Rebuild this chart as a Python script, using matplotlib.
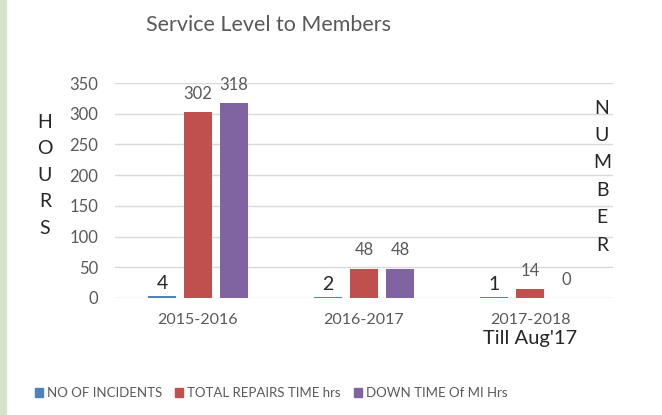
import matplotlib
matplotlib.use("Agg")
import matplotlib.pyplot as plt
import matplotlib.patches as mpatches
import numpy as np

categories = ["2015-2016", "2016-2017", "2017-2018"]
category_note = "Till Aug'17"
incidents = [4, 2, 1]
repairs = [302, 48, 14]
downtime = [318, 48, 0]
series_names = ["NO OF INCIDENTS", "TOTAL REPAIRS TIME hrs", "DOWN TIME Of MI Hrs"]
yticks = [0, 50, 100, 150, 200, 250, 300, 350]

plt.rcParams['font.family'] = ['Lato', 'DejaVu Sans']
GREY = "#595959"
colors = ["#4F81BD", "#C0504D", "#8064A2"]

W, H = 662, 415
fig = plt.figure(figsize=(W / 100, H / 100), dpi=100)
fig.patch.set_facecolor("white")
# green strip on the left
fig.patches.append(mpatches.Rectangle((0, 0), 6 / W, 1, transform=fig.transFigure,
                                      color="#d7e3cd", zorder=0))

ax = fig.add_axes([115 / W, 1 - 298 / H, (613 - 115) / W, (298 - 83) / H])
x = np.arange(len(categories))
bw = 0.169
off = 0.217

b1 = ax.bar(x - off, incidents, bw, color=colors[0], zorder=3)
b2 = ax.bar(x, repairs, bw, color=colors[1], zorder=3)
b3 = ax.bar(x + off, downtime, bw, color=colors[2], zorder=3)

for rect, v in zip(b1, incidents):
    ax.annotate(str(v), (rect.get_x() + rect.get_width() / 2, v), xytext=(0, 9),
                textcoords="offset points", ha="center", va="center",
                fontsize=14, color="#262626")
for bars, vals in ((b2, repairs), (b3, downtime)):
    for rect, v in zip(bars, vals):
        ax.annotate(str(v), (rect.get_x() + rect.get_width() / 2, v), xytext=(0, 13),
                    textcoords="offset points", ha="center", va="center",
                    fontsize=12, color=GREY)

ax.set_xlim(-0.5, len(categories) - 0.5)
ax.set_ylim(0, 350)
ax.set_yticks(yticks)
ax.yaxis.grid(True, color="#d9d9d9", linewidth=1, zorder=0)
ax.set_axisbelow(True)
for s in ax.spines.values():
    s.set_visible(False)
ax.tick_params(axis="both", length=0, labelsize=12, labelcolor=GREY)
ax.tick_params(axis="y", pad=12)
ax.set_xticks(x)
ax.set_xticklabels(categories, fontsize=11.5)
ax.tick_params(axis="x", pad=11)
ax.annotate(category_note, (x[-1], 0), xycoords=("data", "axes fraction"),
            xytext=(0, -29), textcoords="offset points", ha="center", va="center",
            fontsize=14.5, color="#262626")

# vertical letter labels
for i, ch in enumerate("HOURS"):
    fig.text(45 / W, 1 - (122 + i * 26.5) / H, ch, ha="center", va="center",
             fontsize=14, color="#262626")
for i, ch in enumerate("NUMBER"):
    fig.text(602 / W, 1 - (108 + i * 27.4) / H, ch, ha="center", va="center",
             fontsize=14, color="#262626")

fig.text(268 / W, 1 - 25 / H, "Service Level to Members", ha="center", va="center",
         fontsize=15.5, color=GREY)

handles = [mpatches.Patch(color=c) for c in colors]
fig.legend(handles, series_names, loc="center", bbox_to_anchor=(271 / W, 1 - 393 / H),
           ncol=3, frameon=False, fontsize=9.5, labelcolor=GREY,
           handlelength=0.6, handleheight=0.6, handletextpad=0.3, columnspacing=1.0)

fig.savefig("out.png", dpi=100)
